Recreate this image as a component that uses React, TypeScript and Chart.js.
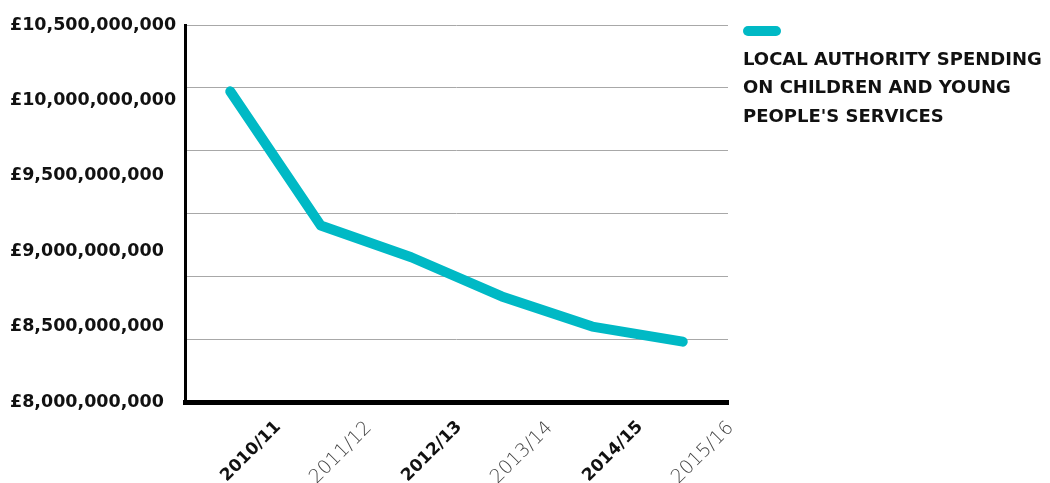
import React, { useEffect, useRef } from "react";
import { Chart, registerables } from "chart.js";

Chart.register(...registerables);

const categories = ["2010/11", "2011/12", "2012/13", "2013/14", "2014/15", "2015/16"];
const spending = [10060000000, 9170000000, 8960000000, 8700000000, 8500000000, 8400000000];
const boldLabels = [true, false, true, false, true, false];
const seriesName = ["LOCAL AUTHORITY SPENDING", "ON CHILDREN AND YOUNG", "PEOPLE'S SERVICES"];
const Y_MIN = 8000000000;
const Y_MAX = 10500000000;
const Y_STEP = 500000000;
const GRID_COUNT = 7;

const TEAL = "#00b9c5";
const FONT = "'DejaVu Sans', sans-serif";

export default function App() {
  const ref = useRef<HTMLCanvasElement | null>(null);

  useEffect(() => {
    if (!ref.current) return;
    const chart = new Chart(ref.current, {
      type: "line",
      data: {
        labels: categories,
        datasets: [
          {
            label: seriesName.join(" "),
            data: spending,
            borderColor: TEAL,
            backgroundColor: TEAL,
            borderWidth: 10,
            borderCapStyle: "round",
            borderJoinStyle: "round",
            pointRadius: 0,
            tension: 0,
            yAxisID: "y",
          },
        ],
      },
      options: {
        animation: false,
        responsive: true,
        maintainAspectRatio: false,
        layout: { padding: { top: 25, right: 322, left: 10, bottom: 0 } },
        plugins: { legend: { display: false }, tooltip: { enabled: false } },
        scales: {
          x: {
            type: "category",
            offset: true,
            grid: { display: false, drawTicks: false },
            border: { display: true, color: "#000", width: 5 },
            afterFit: (s: any) => {
              s.height = 81;
            },
            ticks: {
              autoSkip: false,
              minRotation: 45,
              maxRotation: 45,
              padding: 15,
              labelOffset: 48,
              color: (c: any) => (boldLabels[c.index] ? "#111" : "#444"),
              font: (c: any) => ({
                family: FONT,
                size: boldLabels[c.index] ? 17 : 19,
                weight: boldLabels[c.index] ? "bold" : "200",
              }),
            },
          },
          y: {
            type: "linear",
            position: "left",
            min: Y_MIN,
            max: Y_MAX,
            grid: { display: false, drawTicks: false },
            border: { display: true, color: "#000", width: 3 },
            afterFit: (s: any) => {
              s.width = 175;
            },
            ticks: {
              stepSize: Y_STEP,
              padding: 9,
              crossAlign: "far",
              color: "#111",
              font: { family: FONT, size: 17.5, weight: "bold" },
              callback: (v: any) => "£" + Number(v).toLocaleString("en-GB"),
            },
          },
          y2: {
            type: "linear",
            position: "right",
            min: Y_MIN,
            max: Y_MAX,
            grid: { display: true, drawTicks: false, color: "#a8a8a8", lineWidth: 1 },
            border: { display: false },
            afterFit: (s: any) => {
              s.width = 0;
            },
            ticks: { display: false, count: GRID_COUNT },
          },
        },
      },
    });
    return () => chart.destroy();
  }, []);

  return (
    <div style={{ position: "absolute", left: 0, top: 0, width: 1050, height: 483, background: "#fff" }}>
      <canvas ref={ref} />
      <div style={{ position: "absolute", left: 743, top: 26, width: 38, height: 10, borderRadius: 5, background: TEAL }} />
      <div
        style={{
          position: "absolute",
          left: 743,
          top: 45,
          fontFamily: FONT,
          fontWeight: "bold",
          fontSize: 18,
          lineHeight: "28.3px",
          color: "#111",
          whiteSpace: "nowrap",
        }}
      >
        {seriesName.map((l, i) => (
          <div key={i}>{l}</div>
        ))}
      </div>
    </div>
  );
}
